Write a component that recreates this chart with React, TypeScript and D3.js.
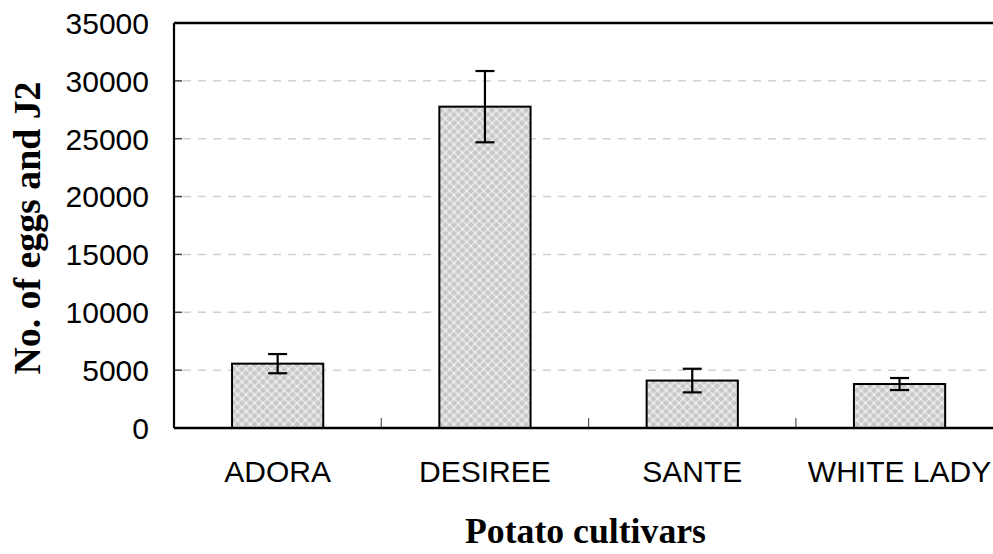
import React from "react";
import * as d3 from "d3";

const categories = ["ADORA", "DESIREE", "SANTE", "WHITE LADY"];
const means = [5560, 27770, 4100, 3800];
const errors = [830, 3080, 1020, 520];
const yTicks = [0, 5000, 10000, 15000, 20000, 25000, 30000, 35000];
const yTitle = "No. of eggs and J2";
const xTitle = "Potato cultivars";

const W = 993;
const H = 554;
const left = 174;
const top = 23;
const bottom = 428;
const step = 207.3;
const right = left + step * categories.length;

export default function App() {
  const x = d3.scaleBand<string>().domain(categories).range([left, right]).padding(0);
  const y = d3.scaleLinear().domain([0, 35000]).range([bottom, top]);
  const barW = x.bandwidth() * 0.44;
  const capW = 19;
  const boundaries = categories.slice(1).map((c) => x(c) as number);

  return (
    <svg width={W} height={H} style={{ position: "absolute", left: 0, top: 0, background: "#fff" }}>
      <defs>
        <pattern id="hatch" width="6" height="6" patternUnits="userSpaceOnUse" patternTransform="rotate(45)">
          <rect width="6" height="6" fill="#c6c8c8" />
          <rect x="2" y="0" width="2" height="6" fill="#dfe0e0" />
          <rect x="0" y="2" width="6" height="2" fill="#dfe0e0" />
          <rect x="2" y="2" width="2" height="2" fill="#f0f0f0" />
        </pattern>
      </defs>
      {/* gridlines */}
      {yTicks.filter((t) => t > 0 && t < 35000).map((t) => (
        <line key={"g" + t} x1={left + 9} x2={W} y1={y(t)} y2={y(t)} stroke="#d0d0d0" strokeWidth={1.5} strokeDasharray="8,7" />
      ))}
      {/* y ticks */}
      {yTicks.map((t) => (
        <line key={"t" + t} x1={left} x2={left + 8} y1={y(t)} y2={y(t)} stroke="#444" strokeWidth={1.5} />
      ))}
      {/* x ticks */}
      {boundaries.map((bx, i) => (
        <line key={"xt" + i} x1={bx} x2={bx} y1={bottom} y2={bottom - 10} stroke="#555" strokeWidth={1.2} />
      ))}
      {/* bars */}
      {categories.map((c, i) => {
        const cx = (x(c) as number) + x.bandwidth() / 2;
        return (
          <rect key={"b" + c} x={cx - barW / 2} y={y(means[i])} width={barW} height={bottom - y(means[i])}
            fill="url(#hatch)" stroke="#000" strokeWidth={2} />
        );
      })}
      {/* error bars */}
      {categories.map((c, i) => {
        const cx = (x(c) as number) + x.bandwidth() / 2;
        const hi = y(means[i] + errors[i]);
        const lo = y(means[i] - errors[i]);
        return (
          <g key={"e" + c} stroke="#000" strokeWidth={2.2}>
            <line x1={cx} x2={cx} y1={hi} y2={lo} />
            <line x1={cx - capW / 2} x2={cx + capW / 2} y1={hi} y2={hi} />
            <line x1={cx - capW / 2} x2={cx + capW / 2} y1={lo} y2={lo} />
          </g>
        );
      })}
      {/* frame */}
      <line x1={left} x2={W} y1={top} y2={top} stroke="#000" strokeWidth={2.6} />
      <line x1={left} x2={left} y1={top} y2={bottom} stroke="#000" strokeWidth={2.2} />
      <line x1={left} x2={W} y1={bottom} y2={bottom} stroke="#000" strokeWidth={2.6} />
      {/* y tick labels */}
      {yTicks.map((t) => (
        <text key={"l" + t} x={149} y={y(t)} dy="0.36em" textAnchor="end"
          fontFamily="'Liberation Sans', Arial, sans-serif" fontSize={30} fill="#000">
          {t}
        </text>
      ))}
      {/* category labels */}
      {categories.map((c) => (
        <text key={"c" + c} x={(x(c) as number) + x.bandwidth() / 2} y={482} textAnchor="middle"
          fontFamily="'Liberation Sans', Arial, sans-serif" fontSize={30} fill="#000">
          {c}
        </text>
      ))}
      {/* axis titles */}
      <text x={585.5} y={543} textAnchor="middle" fontFamily="'Liberation Serif', 'Times New Roman', serif"
        fontWeight="bold" fontSize={36} textLength={241} lengthAdjust="spacingAndGlyphs" fill="#000">
        {xTitle}
      </text>
      <text transform={`translate(40,${228}) rotate(-90)`} textAnchor="middle"
        fontFamily="'Liberation Serif', 'Times New Roman', serif" fontWeight="bold" fontSize={37}
        textLength={293} lengthAdjust="spacingAndGlyphs" fill="#000">
        {yTitle}
      </text>
    </svg>
  );
}
